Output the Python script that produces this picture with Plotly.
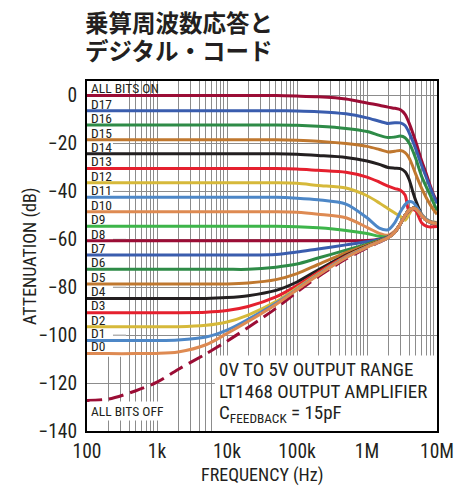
import plotly.graph_objects as go

# ---------------- data ----------------
FREQ = [100, 200, 500, 1e3, 2e3, 5e3, 1e4, 2e4, 5e4, 1e5, 2e5, 5e5, 1e6, 1.5e6, 2e6,
        2.5e6, 3e6, 3.5e6, 4e6, 4.5e6, 5e6, 6e6, 7e6, 8e6, 9e6, 1e7]

ON  = [0, 0, 0, 0, 0, 0, 0, 0, 0, -0.2, -0.5, -1.4, -3.1, -4.0, -4.8,
       -5.3, -5.9, -7.8, -11.5, -15.5, -19.5, -27.0, -32.5, -37.5, -41.5, -44.0]
D17 = [-6.3, -6.3, -6.3, -6.3, -6.3, -6.3, -6.3, -6.3, -6.3, -6.4, -6.7, -7.6, -9.3, -10.7, -11.6,
       -11.3, -11.4, -12.5, -15.5, -19.0, -22.5, -29.0, -34.0, -38.5, -42.0, -45.0]
D16 = [-12.3, -12.3, -12.3, -12.3, -12.3, -12.3, -12.3, -12.3, -12.3, -12.4, -12.8, -13.7, -15.0, -16.6, -17.5,
       -17.3, -16.9, -17.6, -19.8, -23.0, -26.5, -33.5, -38.0, -41.5, -45.0, -48.0]
D15 = [-18.4, -18.4, -18.4, -18.4, -18.4, -18.4, -18.4, -18.4, -18.4, -18.6, -19.0, -20.0, -21.2, -22.5, -23.5,
       -23.2, -22.9, -23.8, -26.0, -29.5, -33.0, -38.5, -42.5, -45.5, -47.8, -49.5]
D14 = [-24.3, -24.3, -24.3, -24.3, -24.3, -24.3, -24.3, -24.3, -24.3, -24.5, -25.0, -25.8, -27.3, -28.7, -30.0,
       -30.3, -30.5, -31.8, -35.0, -40.0, -44.0, -49.5, -51.8, -52.8, -53.5, -53.7]
D13 = [-30.4, -30.4, -30.4, -30.4, -30.4, -30.4, -30.4, -30.4, -30.4, -30.6, -31.2, -32.0, -34.0, -36.1, -37.8,
       -38.8, -39.5, -41.5, -48.5, -47.5, -48.2, -53.0, -54.5, -54.8, -54.7, -54.6]
D12 = [-36.4, -36.4, -36.4, -36.4, -36.4, -36.4, -36.4, -36.4, -36.4, -36.6, -37.5, -38.6, -41.8, -44.8, -47.2,
       -49.0, -50.5, -52.0, -49.5, -47.0, -46.8, -49.5, -51.5, -52.5, -52.8, -53.0]
D11 = [-42.4, -42.4, -42.4, -42.4, -42.4, -42.4, -42.4, -42.4, -42.4, -42.8, -43.5, -45.3, -51.0, -55.3, -56.0,
       -53.0, -48.5, -45.5, -44.2, -44.5, -46.0, -49.5, -51.5, -52.5, -52.9, -53.1]
D10 = [-48.5, -48.5, -48.5, -48.5, -48.5, -48.5, -48.5, -48.5, -48.5, -48.7, -49.5, -51.0, -55.0, -57.5, -58.3,
       -56.5, -53.5, -50.5, -48.5, -47.3, -47.2, -49.8, -51.8, -52.7, -53.0, -53.2]
D9  = [-54.5, -54.5, -54.5, -54.5, -54.5, -54.5, -54.5, -54.5, -54.5, -54.7, -55.2, -56.3, -57.6, -58.7, -59.0,
       -57.0, -53.5, -50.0, -47.8, -47.0, -47.3, -50.0, -52.0, -52.8, -53.2, -53.4]
D8  = [-60.6, -60.6, -60.6, -60.6, -60.6, -60.6, -60.6, -60.6, -60.6, -60.6, -60.6, -60.6, -60.5, -60.0, -59.0,
       -57.0, -53.5, -50.0, -47.8, -47.0, -47.3, -50.0, -52.0, -52.8, -53.2, -53.5]
D7  = [-66.5, -66.5, -66.5, -66.5, -66.5, -66.5, -66.5, -66.5, -66.3, -65.3, -64.0, -62.3, -61.0, -60.0, -59.1,
       -57.0, -53.5, -50.0, -47.8, -47.0, -47.3, -50.0, -52.0, -52.8, -53.2, -53.5]
D6  = [-72.5, -72.5, -72.5, -72.5, -72.5, -72.5, -72.5, -72.5, -71.6, -70.3, -67.8, -64.5, -62.0, -60.5, -59.2,
       -57.0, -53.5, -50.0, -47.8, -47.0, -47.3, -50.0, -52.0, -52.8, -53.2, -53.5]
D5  = [-78.6, -78.6, -78.6, -78.6, -78.6, -78.6, -78.6, -78.2, -76.8, -74.3, -70.5, -65.5, -62.4, -60.7, -59.3,
       -57.0, -53.5, -50.0, -47.8, -47.0, -47.3, -50.0, -52.0, -52.8, -53.2, -53.5]
D4  = [-84.7, -84.7, -84.7, -84.7, -84.7, -84.7, -84.3, -83.5, -81.3, -77.8, -72.8, -66.6, -62.8, -60.8, -59.3,
       -57.0, -53.5, -50.0, -47.8, -47.0, -47.3, -50.0, -52.0, -52.8, -53.2, -53.5]
D3  = [-90.6, -90.6, -90.6, -90.6, -90.6, -90.4, -89.7, -88.0, -84.0, -79.3, -73.8, -67.0, -63.0, -60.9, -59.3,
       -57.0, -53.5, -50.0, -47.8, -47.0, -47.3, -50.0, -52.0, -52.8, -53.2, -53.5]
D2  = [-96.5, -96.5, -96.5, -96.5, -96.5, -95.9, -94.5, -91.6, -86.0, -80.3, -74.5, -67.3, -63.1, -60.9, -59.3,
       -57.0, -53.5, -50.0, -47.8, -47.0, -47.3, -50.0, -52.0, -52.8, -53.2, -53.5]
D1  = [-102.2, -102.2, -102.2, -102.2, -102.0, -100.8, -97.9, -93.4, -86.7, -80.8, -74.8, -67.5, -63.2, -61.0, -59.3,
       -57.0, -53.5, -50.0, -47.8, -47.0, -47.3, -50.0, -52.0, -52.8, -53.2, -53.5]
D0  = [-107.7, -107.7, -107.7, -107.6, -107.0, -104.0, -99.3, -94.3, -87.2, -81.0, -75.0, -67.7, -63.3, -61.0, -59.3,
       -57.0, -53.5, -50.0, -47.8, -47.0, -47.3, -50.0, -52.0, -52.8, -53.2, -53.5]
OFF = [-127.3, -126.7, -123.2, -119.6, -114.3, -107.8, -102.5, -96.8, -88.8, -82.0, -75.6, -68.2, -63.6, -61.2, -59.4,
       -57.0, -53.5, -50.0, -47.8, -47.0, -47.3, -50.0, -52.0, -52.8, -53.2, -53.5]

SERIES_NAMES = ["ALL BITS ON", "D17", "D16", "D15", "D14", "D13", "D12", "D11", "D10", "D9",
                "D8", "D7", "D6", "D5", "D4", "D3", "D2", "D1", "D0"]
SERIES_VALUES = [ON, D17, D16, D15, D14, D13, D12, D11, D10, D9, D8, D7, D6, D5, D4, D3, D2, D1, D0]
LABEL_LEVELS = [0, -6.3, -12.3, -18.4, -24.3, -30.4, -36.4, -42.4, -48.5, -54.5,
                -60.6, -66.5, -72.5, -78.6, -84.7, -90.6, -96.5, -102.2, -107.7]

X_TICKS = [100, 1e3, 1e4, 1e5, 1e6, 1e7]
X_TICK_TEXT = ["100", "1k", "10k", "100k", "1M", "10M"]
Y_TICKS = [0, -20, -40, -60, -80, -100, -120, -140]
Y_TICK_TEXT = ["0", "\u221220", "\u221240", "\u221260", "\u221280", "\u2212100", "\u2212120", "\u2212140"]

TITLE_LINES = ["乗算周波数応答と", "デジタル・コード"]
TITLE_Y = [1.1686, 1.0886]
NOTE_LINES = ["0V TO 5V OUTPUT RANGE", "LT1468 OUTPUT AMPLIFIER", "C<sub>FEEDBACK</sub> = 15pF"]
NOTE_Y = [-114.4, -123.6, -132.8]

# ---------------- styling ----------------
PALETTE = ["#9B0D35", "#3A5DAE", "#2E8B47", "#C0782F", "#231F20",
           "#E5202E", "#D6B93A", "#4D87C7", "#DE8A52", "#3DB54A"]
NARROW = "Roboto Condensed, Archivo Narrow, sans-serif"
TXT = "#231F20"
GRID = "#8C8C8C"

fig = go.Figure()

fig.add_trace(go.Scatter(x=FREQ, y=OFF, mode="lines",
                         line=dict(color="#9B0D35", width=3, dash="15px,7px", shape="spline", smoothing=0.8),
                         showlegend=False, hoverinfo="skip"))
for i, (name, vals) in enumerate(zip(SERIES_NAMES, SERIES_VALUES)):
    fig.add_trace(go.Scatter(x=FREQ, y=vals, mode="lines", name=name,
                             line=dict(color=PALETTE[i % 10], width=3, shape="spline", smoothing=0.8),
                             showlegend=False, hoverinfo="skip"))

shapes = []
# white column behind the curve labels
shapes.append(dict(type="rect", xref="x", yref="y", x0=100, x1=361, y0=-109, y1=6,
                   fillcolor="white", line=dict(width=0), layer="between"))
for yv in [-20, -40, -60, -80, -100]:
    shapes.append(dict(type="line", xref="x", yref="y", x0=235, x1=361, y0=yv, y1=yv,
                       line=dict(color=GRID, width=1), layer="between"))
# white box behind the condition note
shapes.append(dict(type="rect", xref="x", yref="y", x0=6700, x1=1e7, y0=-140, y1=-108.5,
                   fillcolor="white", line=dict(width=0), layer="between"))
fig.update_layout(shapes=shapes)

ann = []
for name, lev in zip(SERIES_NAMES, LABEL_LEVELS):
    ann.append(dict(x=2, y=lev + 3.0, xref="x", yref="y", text=name, showarrow=False,
                    xanchor="left", yanchor="middle", xshift=2,
                    font=dict(family=NARROW, size=13.5, color=TXT)))
ann.append(dict(x=2, y=-131.6, xref="x", yref="y", text="ALL BITS OFF", showarrow=False,
                xanchor="left", yanchor="middle", xshift=2, bgcolor="white", borderpad=1,
                font=dict(family=NARROW, size=13.5, color=TXT)))
for line_txt, ly in zip(NOTE_LINES, NOTE_Y):
    ann.append(dict(x=3.86, y=ly, xref="x", yref="y", text=line_txt,
                    showarrow=False, xanchor="left", yanchor="middle", align="left",
                    font=dict(family=NARROW, size=19, color=TXT)))
# title (two lines)
for t_txt, ty in zip(TITLE_LINES, TITLE_Y):
    ann.append(dict(x=-0.0114, y=ty, xref="paper", yref="paper",
                    text=f"<b>{t_txt}</b>", showarrow=False,
                    xanchor="left", yanchor="middle", align="left",
                    font=dict(family="Noto Sans CJK JP", size=23.5, color=TXT)))
# axis titles
ann.append(dict(x=0.5, y=-0.126, xref="paper", yref="paper", text="FREQUENCY (Hz)",
                showarrow=False, xanchor="center", yanchor="middle",
                font=dict(family=NARROW, size=18, color=TXT)))
ann.append(dict(x=-0.163, y=0.5, xref="paper", yref="paper", text="ATTENUATION (dB)",
                showarrow=False, xanchor="center", yanchor="middle", textangle=-90,
                font=dict(family=NARROW, size=18, color=TXT)))
fig.update_layout(annotations=ann)

MINOR_X = [m * 10 ** e for e in range(2, 7) for m in range(2, 10)]

fig.update_xaxes(type="log", range=[2, 7], tickvals=X_TICKS, ticktext=X_TICK_TEXT,
                 showgrid=True, gridcolor=GRID, gridwidth=1,
                 minor=dict(tickvals=MINOR_X, showgrid=True, gridcolor=GRID, gridwidth=1, ticks=""),
                 showline=True, linecolor="black", linewidth=2, mirror=True,
                 ticks="outside", ticklen=2, tickcolor="rgba(0,0,0,0)",
                 tickfont=dict(family=NARROW, size=19.5, color=TXT), zeroline=False)
fig.update_yaxes(range=[-140, 6.1], tickvals=Y_TICKS, ticktext=Y_TICK_TEXT,
                 showgrid=True, gridcolor=GRID, gridwidth=1,
                 showline=True, linecolor="black", linewidth=2, mirror=True,
                 ticks="outside", ticklen=4, tickcolor="rgba(0,0,0,0)",
                 tickfont=dict(family=NARROW, size=19.5, color=TXT), zeroline=False)

fig.update_layout(width=464, height=484,
                  margin=dict(l=79, r=35, t=73, b=61),
                  paper_bgcolor="white", plot_bgcolor="white")

fig.write_html("out.html")
